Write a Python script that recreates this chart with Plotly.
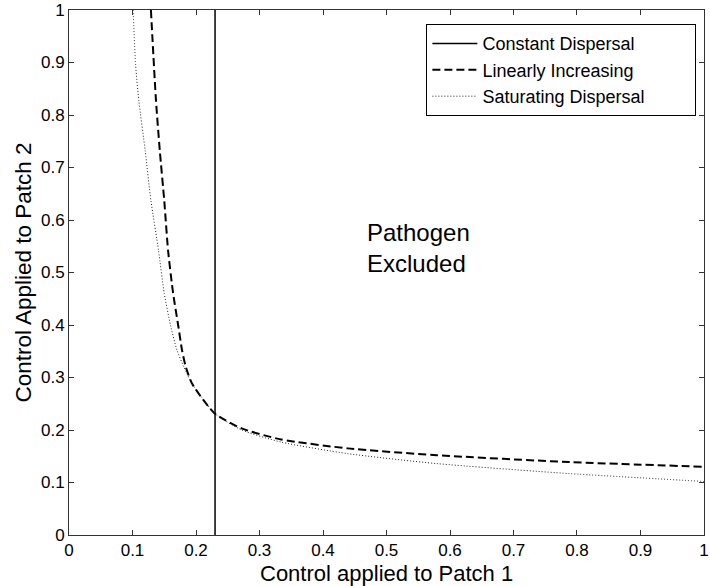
import plotly.graph_objects as go

# Data
const_x = [0.23, 0.23]
const_y = [0.0, 1.0]

lin_x = [0.129, 0.137, 0.143, 0.150, 0.156, 0.164, 0.172, 0.178, 0.184, 0.194, 0.229, 0.272, 0.334, 0.439, 0.579, 0.7875, 1.0]
lin_y = [1.0, 0.827, 0.732, 0.637, 0.542, 0.46, 0.399, 0.352, 0.32, 0.288, 0.232, 0.203, 0.182, 0.165, 0.152, 0.139, 0.130]

sat_x = [0.101, 0.105, 0.110, 0.120, 0.129, 0.141, 0.150, 0.160, 0.170, 0.181, 0.194, 0.229, 0.272, 0.334, 0.439, 0.579, 0.7875, 1.0]
sat_y = [1.0, 0.894, 0.827, 0.732, 0.637, 0.542, 0.46, 0.399, 0.352, 0.32, 0.288, 0.232, 0.200, 0.177, 0.155, 0.136, 0.117, 0.102]

series_names = ["Constant Dispersal", "Linearly Increasing", "Saturating Dispersal"]

tick_vals = [0, 0.1, 0.2, 0.3, 0.4, 0.5, 0.6, 0.7, 0.8, 0.9, 1]
tick_text = ["0", "0.1", "0.2", "0.3", "0.4", "0.5", "0.6", "0.7", "0.8", "0.9", "1"]

FONT = "Liberation Sans, Arial, sans-serif"
PAD = "\u00a0" * 9  # extra room on the right of the legend box

fig = go.Figure()
fig.add_trace(go.Scatter(x=const_x, y=const_y, mode="lines", name=series_names[0] + PAD,
                         line=dict(color="black", width=1.5)))
fig.add_trace(go.Scatter(x=lin_x, y=lin_y, mode="lines", name=series_names[1] + PAD,
                         line=dict(color="black", width=2, dash="8px,4px", shape="spline", smoothing=0.6)))
fig.add_trace(go.Scatter(x=sat_x, y=sat_y, mode="lines", name=series_names[2] + PAD,
                         line=dict(color="#222", width=1, dash="1px,2px", shape="spline", smoothing=0.6)))

axis_common = dict(
    range=[0, 1.00001], tickvals=tick_vals, ticktext=tick_text,
    ticks="inside", ticklen=5, tickcolor="#333", tickwidth=1,
    showline=True, linecolor="#333", linewidth=1, mirror="ticks",
    showgrid=False, zeroline=False, ticklabeloverflow="allow",
    tickfont=dict(family=FONT, size=17, color="black"),
)

fig.update_xaxes(**axis_common)
fig.update_yaxes(**axis_common,
                 title=dict(text="Control Applied to Patch 2", font=dict(family=FONT, size=22.5, color="black"), standoff=3))

fig.add_annotation(x=0.5, y=-0.0735, xref="paper", yref="paper", text="Control applied to Patch 1",
                   showarrow=False, xanchor="center", yanchor="middle",
                   font=dict(family=FONT, size=22, color="black"))

fig.add_annotation(x=0.466, y=0.605, xref="x", yref="y", text="Pathogen<br>Excluded",
                   showarrow=False, xanchor="left", yanchor="top", align="left",
                   font=dict(family=FONT, size=24, color="black"))

fig.update_layout(
    width=710, height=586,
    margin=dict(l=69, r=1, t=9, b=51),
    paper_bgcolor="white", plot_bgcolor="white",
    showlegend=True,
    legend=dict(x=0.988, y=0.973, xanchor="right", yanchor="top",
                bgcolor="white", bordercolor="black", borderwidth=1, itemwidth=45,
                font=dict(family=FONT, size=18, color="black")),
)

fig.write_html("out.html")
